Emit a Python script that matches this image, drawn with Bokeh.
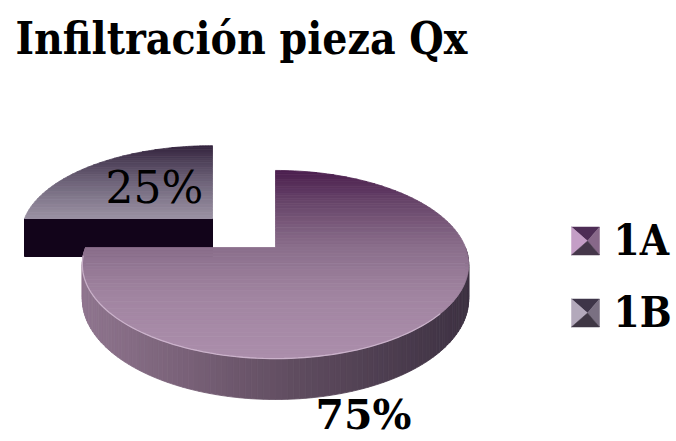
import numpy as np
from bokeh.plotting import figure
from bokeh.models import Range1d
from bokeh.core.properties import value
from bokeh.embed import file_html
from bokeh.resources import INLINE

# ---------------- data ----------------
title_text = "Infiltración pieza Qx"
categories = ["1A", "1B"]
values = [75, 25]
pct_labels = ["75%", "25%"]

# ---------------- helpers ----------------
def hex2rgb(h):
    h = h.lstrip("#")
    return np.array([int(h[i:i + 2], 16) for i in (0, 2, 4)], dtype=float)

def rgb2hex(c):
    c = np.clip(np.round(c), 0, 255).astype(int)
    return "#%02x%02x%02x" % tuple(c)

def ramp(stops, t):
    ts = [s[0] for s in stops]
    cols = [hex2rgb(s[1]) for s in stops]
    t = min(max(t, ts[0]), ts[-1])
    for i in range(len(ts) - 1):
        if ts[i] <= t <= ts[i + 1]:
            f = (t - ts[i]) / (ts[i + 1] - ts[i])
            return rgb2hex(cols[i] * (1 - f) + cols[i + 1] * f)
    return rgb2hex(cols[-1])

def clip_half(poly, v0, keep_above):
    out = []
    n = len(poly)
    def inside(pt):
        return pt[1] >= v0 if keep_above else pt[1] <= v0
    for i in range(n):
        cur, prv = poly[i], poly[i - 1]
        ci, pi = inside(cur), inside(prv)
        if ci:
            if not pi:
                t = (v0 - prv[1]) / (cur[1] - prv[1])
                out.append((prv[0] + t * (cur[0] - prv[0]), v0))
            out.append(cur)
        elif pi:
            t = (v0 - prv[1]) / (cur[1] - prv[1])
            out.append((prv[0] + t * (cur[0] - prv[0]), v0))
    return out

class Disk:
    def __init__(self, cx, cy, rx, ry, c, d0):
        self.cx, self.cy, self.rx, self.ry, self.c, self.d0 = cx, cy, rx, ry, c, d0
    def proj(self, u, v):
        den = 1 + self.c * v
        return self.cx + self.rx * u / den, self.cy + self.ry * v / den
    def depth(self, v):
        return self.d0 / (1 + self.c * v)

def sector_poly(a0, a1, n=160):
    th = np.radians(np.linspace(a0, a1, n))
    return [(0.0, 0.0)] + [(float(np.cos(t)), float(-np.sin(t))) for t in th]

# angles from data (start at 12 o'clock, clockwise)
total = float(sum(values))
angles = []
a = 90.0
for v in values:
    a_end = a - 360.0 * v / total
    angles.append((a, a_end))
    a = a_end

W, H = 676, 441
p = figure(width=W, height=H, x_range=Range1d(0, W), y_range=Range1d(H, 0),
           output_backend="svg", toolbar_location=None, min_border=0,
           x_axis_location=None, y_axis_location=None)
p.grid.visible = False
p.outline_line_color = None
p.background_fill_color = "white"
p.border_fill_color = "white"

main = Disk(275, 247, 190, 91, -0.181, 33.5)
expl = Disk(212, 218, 188, 86, -0.181, 38.0)

top_stops = {
    "1A": [(-1, "#4a1d4d"), (-0.5, "#6a486c"), (0, "#8a6e8b"), (0.5, "#a185a1"), (1, "#ab8eab")],
    "1B": [(-1, "#33233d"), (-0.5, "#6a5f75"), (0, "#9a91a3"), (1, "#9a91a3")],
}

def top_face(disk, poly, stops, nb=60):
    xs, ys, cols = [], [], []
    edges = np.linspace(-1, 1, nb + 1)
    for i in range(nb):
        v0, v1 = edges[i], edges[i + 1]
        q = clip_half(poly, v0, True)
        if len(q) < 3:
            continue
        q = clip_half(q, v1, False)
        if len(q) < 3:
            continue
        px, py = zip(*[disk.proj(u, v) for u, v in q])
        xs.append(list(px)); ys.append(list(py))
        cols.append(ramp(stops, 0.5 * (v0 + v1)))
    return xs, ys, cols

# ---- exploded slice 1B ----
a0, a1 = angles[1]
poly_b = sector_poly(a0, a1)
lx, ly = expl.proj(-1, 0)
cx0, cy0 = expl.proj(0, 0)
d = expl.depth(0)
p.patch([lx, cx0, cx0, lx], [ly, cy0, cy0 + d, ly + d], fill_color="#12041a", line_color="#12041a")
xs, ys, cols = top_face(expl, poly_b, top_stops["1B"])
p.patches(xs, ys, fill_color=cols, line_color=cols, line_width=0.8)

# ---- main slice 1A ----
a0, a1 = angles[0]
poly_a = sector_poly(a0, a1)
side_stops = [(82, "#8f758e"), (180, "#7a6279"), (300, "#5e4b5e"), (470, "#3d3142")]
th = np.radians(np.linspace(-180, 0, 121))
sxs, sys_, scol = [], [], []
for i in range(len(th) - 1):
    u0, v0 = np.cos(th[i]), -np.sin(th[i])
    u1, v1 = np.cos(th[i + 1]), -np.sin(th[i + 1])
    x0, y0 = main.proj(u0, v0)
    x1, y1 = main.proj(u1, v1)
    sxs.append([x0, x1, x1, x0])
    sys_.append([y0, y1, y1 + main.depth(v1), y0 + main.depth(v0)])
    scol.append(ramp(side_stops, 0.5 * (x0 + x1)))
p.patches(sxs, sys_, fill_color=scol, line_color=scol, line_width=0.8)

xs, ys, cols = top_face(main, poly_a, top_stops["1A"])
p.patches(xs, ys, fill_color=cols, line_color=cols, line_width=0.8)

th = np.radians(np.linspace(-175, -40, 80))
hx, hy = zip(*[main.proj(np.cos(t), -np.sin(t)) for t in th])
p.line(list(hx), list(hy), line_color="#dcc4dc", line_width=1.3, line_alpha=0.7)

# ---------------- texts ----------------
BOFF = 0.38  # baseline correction (em) observed for the svg text

def put_text(x, baseline, txt, font, size, bold=False):
    p.text(x=[x], y=[baseline - BOFF * size], text=[txt], text_font=value(font),
           text_font_style="bold" if bold else "normal", text_font_size="%dpx" % size,
           text_color="black", text_align="left", text_baseline="alphabetic")

put_text(15, 55, title_text, "DejaVu Serif Condensed", 44, bold=True)
put_text(105, 204, pct_labels[1], "DejaVu Serif", 44)
put_text(315, 430, pct_labels[0], "DejaVu Serif", 41, bold=True)

# ---------------- legend ----------------
sw_cols = {
    "1A": ("#4d2d55", "#c49ec6", "#876889", "#45374a"),
    "1B": ("#3e3548", "#b3a9bb", "#7a7082", "#3f3744"),
}
leg_y = [240.5, 312.5]
for cat, yc in zip(categories, leg_y):
    xc, s = 585.0, 14.0
    ax_, ay_ = xc + 2, yc
    tl, tr, br, bl = (xc - s, yc - s), (xc + s, yc - s), (xc + s, yc + s), (xc - s, yc + s)
    t_, l_, r_, b_ = sw_cols[cat]
    faces = [([tl, tr], t_), ([bl, tl], l_), ([tr, br], r_), ([br, bl], b_)]
    for (pa, pb), col in faces:
        p.patch([pa[0], pb[0], ax_], [pa[1], pb[1], ay_], fill_color=col, line_color=col, line_width=0.5)
    put_text(613, yc + 15.5, cat, "DejaVu Serif Condensed", 42, bold=True)

open("out.html", "w").write(file_html(p, INLINE))
